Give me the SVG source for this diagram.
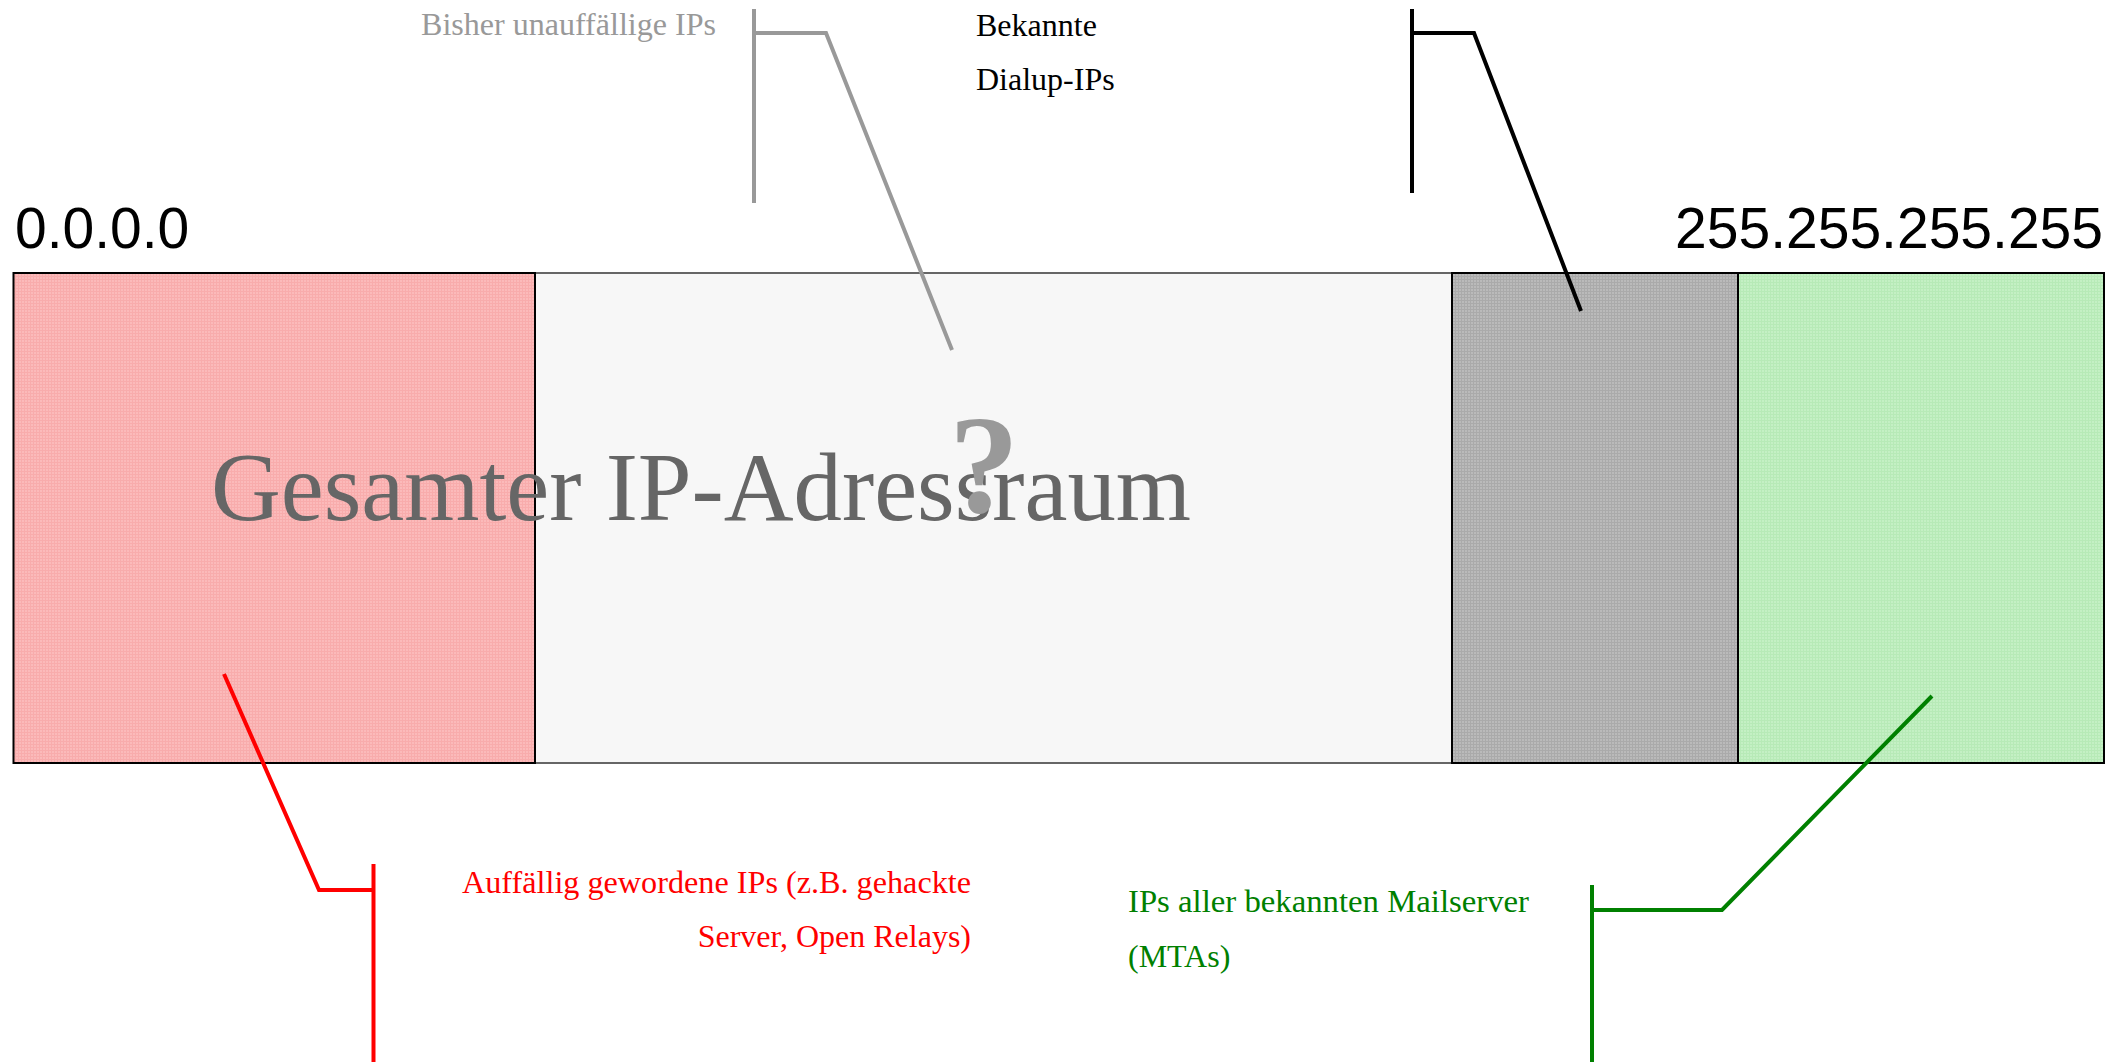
<svg xmlns="http://www.w3.org/2000/svg" width="2118" height="1062" viewBox="0 0 2118 1062">
  <defs>
    <!-- fine screen texture for the shaded ranges -->
    <pattern id="texRed" width="3" height="3" patternUnits="userSpaceOnUse">
      <rect width="3" height="3" fill="#fbbaba"/>
      <rect width="3" height="1" fill="#f8acac"/>
      <rect width="1" height="3" fill="#f8acac"/>
    </pattern>
    <pattern id="texGray" width="3" height="3" patternUnits="userSpaceOnUse">
      <rect width="3" height="3" fill="#bababa"/>
      <rect width="3" height="1" fill="#aaaaaa"/>
      <rect width="1" height="3" fill="#aaaaaa"/>
    </pattern>
    <pattern id="texGreen" width="3" height="3" patternUnits="userSpaceOnUse">
      <rect width="3" height="3" fill="#c4f0c4"/>
      <rect width="3" height="1" fill="#b7eab7"/>
      <rect width="1" height="3" fill="#b7eab7"/>
    </pattern>
  </defs>
  <style>
    .range { stroke: #000; stroke-width: 2; }
    .ip { font-family: "Liberation Sans", Arial, sans-serif; font-size: 57px; fill: #000; }
    .lbl { font-family: "Liberation Serif", "Times New Roman", serif; font-size: 32px; }
    .wire { fill: none; stroke-width: 4; stroke-linejoin: miter; }
  </style>

  <rect width="2118" height="1062" fill="#fff"/>

  <!-- address ranges -->
  <g id="range-unknown">
    <rect x="535" y="273" width="917" height="490" fill="#f7f7f7" stroke="#666" stroke-width="2"/>
  </g>
  <g id="range-suspicious">
    <rect class="range" x="13.5" y="273" width="521.5" height="490" fill="url(#texRed)"/>
  </g>
  <g id="range-dialup">
    <rect class="range" x="1452" y="273" width="286" height="490" fill="url(#texGray)"/>
  </g>
  <g id="range-mta">
    <rect class="range" x="1738" y="273" width="366" height="490" fill="url(#texGreen)"/>
  </g>

  <!-- range boundaries -->
  <g id="label-start">
    <text class="ip" x="15" y="248">0.0.0.0</text>
  </g>
  <g id="label-end">
    <text class="ip" x="2103" y="248" text-anchor="end">255.255.255.255</text>
  </g>

  <!-- title across the whole space -->
  <g id="title">
    <text x="211" y="520" font-family="Liberation Serif, 'Times New Roman', serif" font-size="97" fill="#666" textLength="980" lengthAdjust="spacingAndGlyphs">Gesamter IP-Adressraum</text>
    <text x="984" y="512" font-family="Liberation Serif, 'Times New Roman', serif" font-size="140" font-weight="bold" fill="#999" text-anchor="middle">?</text>
  </g>

  <!-- callout lines -->
  <g id="connectors">
    <path class="wire" stroke="#999" d="M754 9 V203 M754 33 H826 L952 350"/>
    <path class="wire" stroke="#000" d="M1412 9 V193 M1412 33 H1474 L1581 311"/>
    <path class="wire" stroke="#f00" d="M224 674 L319 890 H373.5 M373.5 864 V1062"/>
    <path class="wire" stroke="#008000" d="M1932 696 L1722 910 H1592 M1592 885 V1062"/>
  </g>

  <!-- callout texts -->
  <g id="label-unknown">
    <text class="lbl" x="421" y="35" fill="#999" textLength="295" lengthAdjust="spacingAndGlyphs">Bisher unauffällige IPs</text>
  </g>
  <g id="label-dialup">
    <text class="lbl" x="976" y="35.5" fill="#000">Bekannte</text>
    <text class="lbl" x="976" y="90" fill="#000">Dialup-IPs</text>
  </g>
  <g id="label-suspicious">
    <text class="lbl" x="971" y="893" fill="#f00" text-anchor="end" textLength="509" lengthAdjust="spacingAndGlyphs">Auffällig gewordene IPs (z.B. gehackte</text>
    <text class="lbl" x="971" y="947" fill="#f00" text-anchor="end">Server, Open Relays)</text>
  </g>
  <g id="label-mta">
    <text class="lbl" x="1128" y="912" fill="#008000" textLength="401" lengthAdjust="spacingAndGlyphs">IPs aller bekannten Mailserver</text>
    <text class="lbl" x="1128" y="967" fill="#008000">(MTAs)</text>
  </g>
</svg>
